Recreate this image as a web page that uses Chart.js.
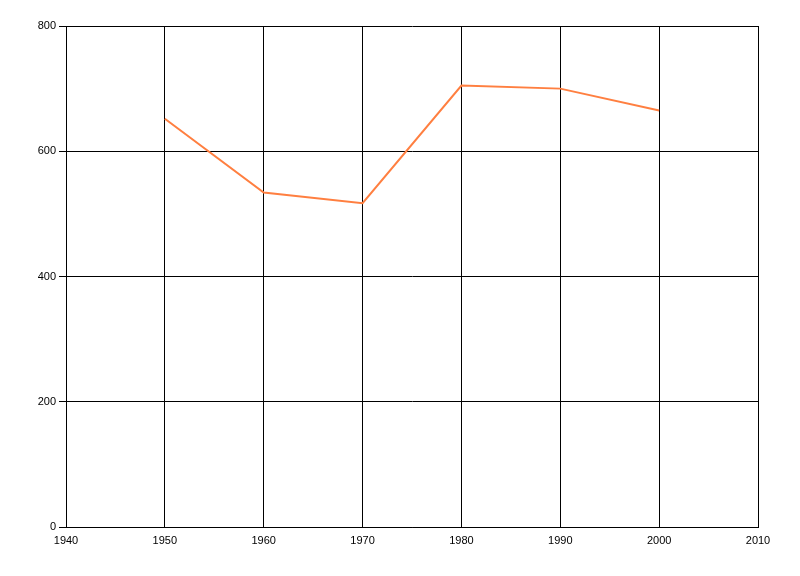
<!DOCTYPE html>
<html>
<head>
<meta charset="utf-8">
<script src="https://cdn.jsdelivr.net/npm/chart.js@4.4.1/dist/chart.umd.min.js"></script>
<style>
html,body{margin:0;padding:0;background:#fff;}
#wrap{width:800px;height:576px;}
</style>
</head>
<body>
<div id="wrap"><canvas id="c" width="800" height="576"></canvas></div>
<script>
const years = [1950, 1960, 1970, 1980, 1990, 2000];
const values = [652, 534, 517, 705, 700, 665];
const xTicks = [1940, 1950, 1960, 1970, 1980, 1990, 2000, 2010];
const yTicks = [0, 200, 400, 600, 800];

const points = years.map((y, i) => ({x: y, y: values[i]}));

new Chart(document.getElementById('c'), {
  type: 'line',
  data: {
    datasets: [{
      data: points,
      borderColor: '#FF7F40',
      borderWidth: 2,
      pointRadius: 0,
      tension: 0,
      fill: false
    }]
  },
  options: {
    responsive: false,
    animation: false,
    devicePixelRatio: 1,
    layout: {padding: {left: 0, right: 42, top: 26, bottom: 0}},
    plugins: {legend: {display: false}, tooltip: {enabled: false}},
    scales: {
      x: {
        type: 'linear',
        min: xTicks[0],
        max: xTicks[xTicks.length - 1],
        afterBuildTicks: s => { s.ticks = xTicks.map(v => ({value: v})); },
        ticks: {
          color: '#000',
          font: {family: 'Liberation Sans', size: 11},
          padding: 3,
          maxRotation: 0,
          callback: v => String(v)
        },
        grid: {color: '#000', lineWidth: 1, tickLength: 4, tickColor: 'rgba(0,0,0,0)'},
        border: {color: '#000', width: 1},
        afterFit: s => { s.height = 49; }
      },
      y: {
        min: yTicks[0],
        max: yTicks[yTicks.length - 1],
        afterBuildTicks: s => { s.ticks = yTicks.map(v => ({value: v})); },
        ticks: {
          color: '#000',
          font: {family: 'Liberation Sans', size: 11},
          padding: 3,
          callback: v => String(v)
        },
        grid: {color: '#000', lineWidth: 1, tickLength: 7},
        border: {color: '#000', width: 1},
        afterFit: s => { s.width = 66; }
      }
    }
  }
});
</script>
</body>
</html>
